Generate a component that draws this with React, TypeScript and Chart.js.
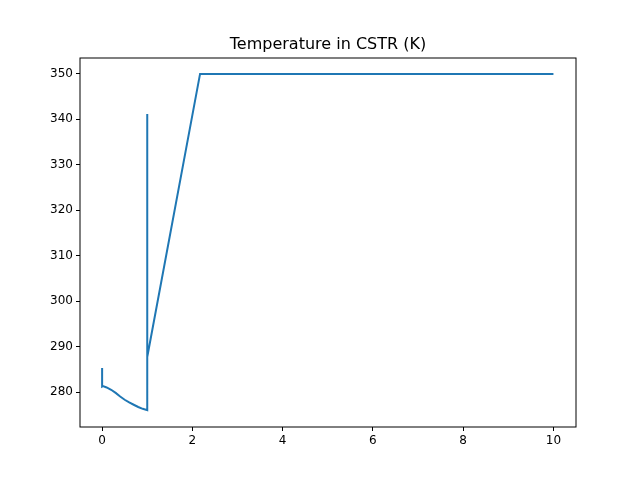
import React, { useEffect, useRef } from 'react';
import Chart from 'chart.js/auto';

const times = [0, 0, 0.02, 0.1, 0.2, 0.3, 0.4, 0.5, 0.6, 0.7, 0.8, 0.9, 1.0, 1.0, 1.0, 2.17, 4, 6, 8, 10];
const temps = [285.3, 281.2, 281.3, 281.0, 280.5, 279.8, 279.0, 278.3, 277.7, 277.2, 276.7, 276.3, 276.0, 341.2, 287.7, 350, 350, 350, 350, 350];
const xTicks = [0, 2, 4, 6, 8, 10];
const yTicks = [280, 290, 300, 310, 320, 330, 340, 350];
const title = 'Temperature in CSTR (K)';

const frame = {
	id: 'frame',
	afterDraw(chart: any) {
		const { ctx, chartArea: a } = chart;
		ctx.save();
		ctx.strokeStyle = '#000';
		ctx.lineWidth = 1;
		ctx.strokeRect(a.left, a.top, a.right - a.left, a.bottom - a.top);
		ctx.fillStyle = '#000';
		ctx.font = '16px "DejaVu Sans"';
		ctx.textAlign = 'center';
		ctx.textBaseline = 'alphabetic';
		ctx.fillText(title, (a.left + a.right) / 2, a.top - 9);
		ctx.restore();
	},
};

export default function App() {
	const canvasRef = useRef<HTMLCanvasElement>(null);

	useEffect(() => {
		if (!canvasRef.current) return;
		document.body.style.margin = '0';
		const tickFont = { family: 'DejaVu Sans', size: 12 };
		const chart = new Chart(canvasRef.current, {
			type: 'line',
			data: {
				datasets: [{
					data: times.map((t, i) => ({ x: t, y: temps[i] })),
					borderColor: '#1f77b4',
					borderWidth: 2,
					pointRadius: 0,
					tension: 0,
				}],
			},
			options: {
				animation: false,
				responsive: false,
				layout: { padding: { top: 58, right: 64, left: 0, bottom: 0 } },
				plugins: { legend: { display: false }, tooltip: { enabled: false } },
				scales: {
					x: {
						type: 'linear',
						min: -0.49,
						max: 10.5,
						afterBuildTicks: (s: any) => { s.ticks = xTicks.map(v => ({ value: v })); },
						afterFit: (s: any) => { s.height = 53; },
						grid: { drawOnChartArea: false, tickLength: 4, color: '#000' },
						border: { display: false },
						ticks: { color: '#000', font: tickFont, padding: 3, maxRotation: 0 },
					},
					y: {
						min: 272.3,
						max: 353.5,
						afterBuildTicks: (s: any) => { s.ticks = yTicks.map(v => ({ value: v })); },
						afterFit: (s: any) => { s.width = 80; },
						grid: { drawOnChartArea: false, tickLength: 4, color: '#000' },
						border: { display: false },
						ticks: { color: '#000', font: tickFont, padding: 3 },
					},
				},
			},
			plugins: [frame],
		});
		return () => chart.destroy();
	}, []);

	return <canvas ref={canvasRef} width={640} height={480} />;
}
